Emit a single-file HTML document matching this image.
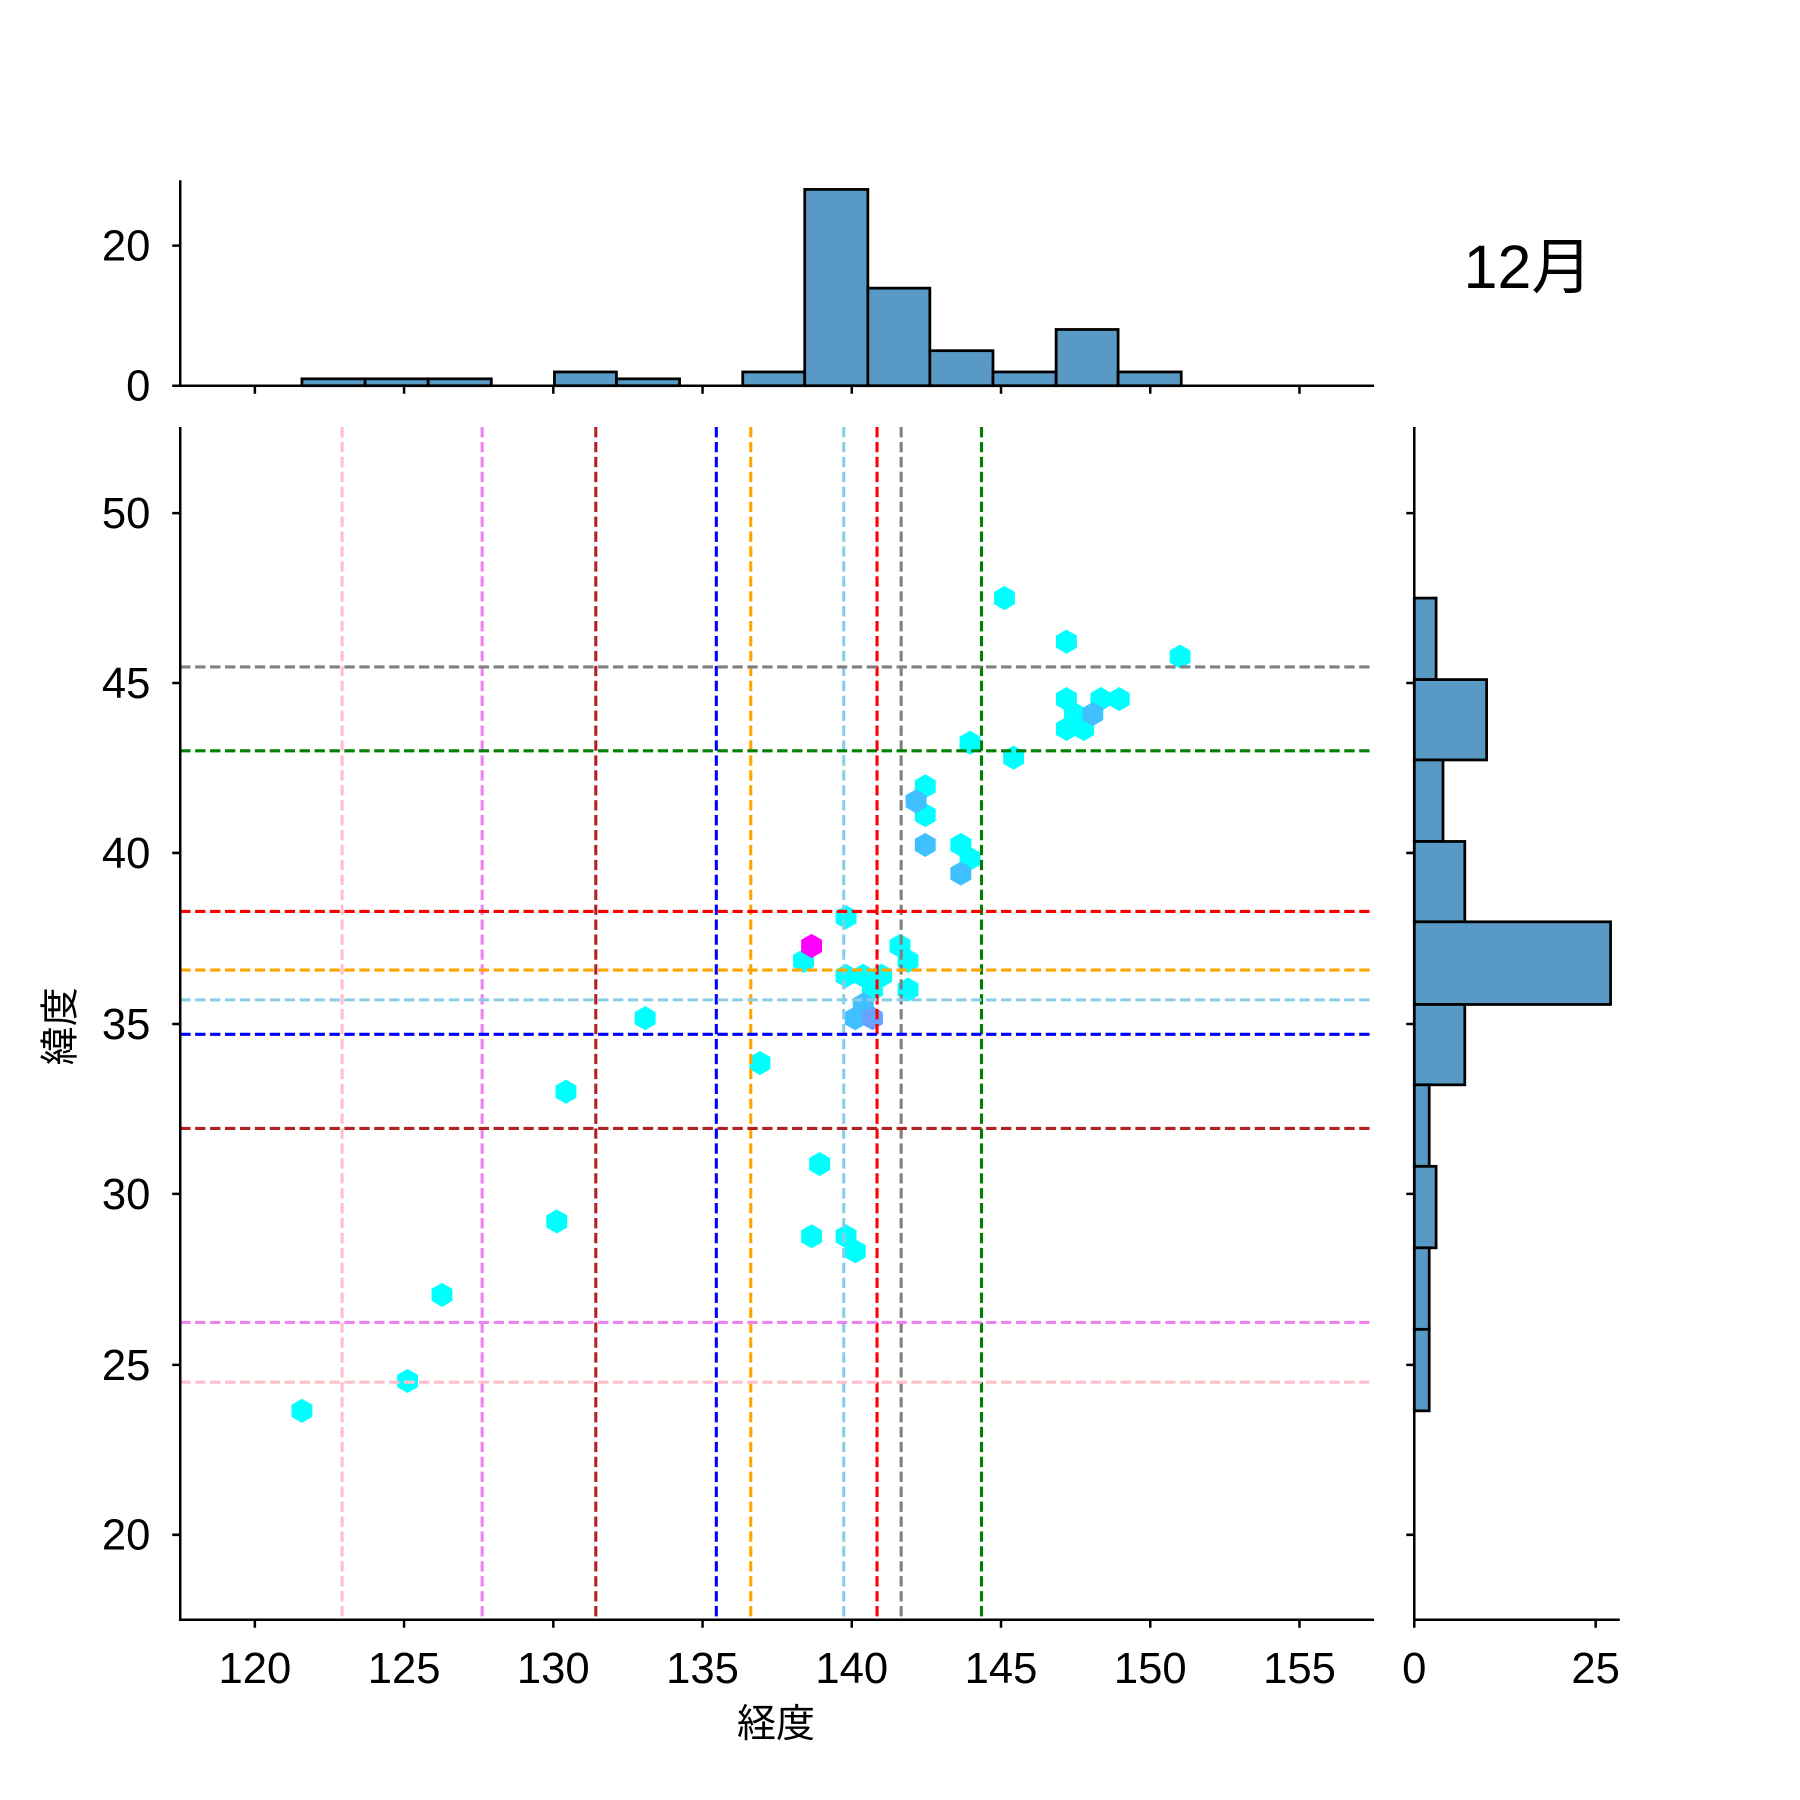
<!DOCTYPE html>
<html><head><meta charset="utf-8"><style>html,body{margin:0;padding:0;background:#fff}svg{display:block}</style></head>
<body>
<svg xmlns="http://www.w3.org/2000/svg" width="1800" height="1800" viewBox="0 0 1568 1568" font-family="'Liberation Sans','Noto Sans CJK JP',sans-serif">
<defs><polygon id="h" points="0,-10.5 9.1,-5.25 9.1,5.25 0,10.5 -9.1,5.25 -9.1,-5.25"/></defs>
<rect width="1568" height="1568" fill="#fff"/>
<g fill="#00ffff">
<use href="#h" x="875" y="521"/><use href="#h" x="929" y="559"/><use href="#h" x="1028" y="572"/>
<use href="#h" x="929" y="609"/><use href="#h" x="959" y="609"/><use href="#h" x="975" y="609"/>
<use href="#h" x="936" y="622"/><use href="#h" x="929" y="635"/><use href="#h" x="944" y="635"/>
<use href="#h" x="845" y="647"/><use href="#h" x="883" y="660"/><use href="#h" x="806" y="685"/>
<use href="#h" x="806" y="710"/><use href="#h" x="837" y="736"/><use href="#h" x="845" y="748"/>
<use href="#h" x="737" y="799"/><use href="#h" x="700" y="837"/><use href="#h" x="784" y="824"/>
<use href="#h" x="791" y="837"/><use href="#h" x="737" y="850"/><use href="#h" x="752" y="850"/>
<use href="#h" x="768" y="850"/><use href="#h" x="791" y="862"/><use href="#h" x="760" y="862"/>
<use href="#h" x="562" y="887"/><use href="#h" x="662" y="926"/><use href="#h" x="493" y="951"/>
<use href="#h" x="714" y="1014"/><use href="#h" x="485" y="1064"/><use href="#h" x="707" y="1077"/>
<use href="#h" x="737" y="1077"/><use href="#h" x="745" y="1090"/><use href="#h" x="385" y="1128"/>
<use href="#h" x="355" y="1203"/><use href="#h" x="263" y="1229"/>
</g>
<g fill="#40c0ff">
<use href="#h" x="952" y="622"/><use href="#h" x="798" y="698"/><use href="#h" x="806" y="736"/>
<use href="#h" x="837" y="761"/><use href="#h" x="752" y="875"/><use href="#h" x="745" y="887"/>
</g>
<use href="#h" x="760" y="887" fill="#66a3ff"/>
<use href="#h" x="707" y="824" fill="#ff00ff"/>
<g stroke-width="2.7" stroke-dasharray="9,4" fill="none">
<line x1="298" y1="372" x2="298" y2="1411" stroke="pink"/>
<line x1="420" y1="372" x2="420" y2="1411" stroke="violet"/>
<line x1="519" y1="372" x2="519" y2="1411" stroke="firebrick"/>
<line x1="624" y1="372" x2="624" y2="1411" stroke="blue"/>
<line x1="654" y1="372" x2="654" y2="1411" stroke="orange"/>
<line x1="735" y1="372" x2="735" y2="1411" stroke="skyblue"/>
<line x1="764" y1="372" x2="764" y2="1411" stroke="red"/>
<line x1="785" y1="372" x2="785" y2="1411" stroke="gray"/>
<line x1="855" y1="372" x2="855" y2="1411" stroke="green"/>
<line x1="157" y1="581" x2="1197" y2="581" stroke="gray"/>
<line x1="157" y1="654" x2="1197" y2="654" stroke="green"/>
<line x1="157" y1="794" x2="1197" y2="794" stroke="red"/>
<line x1="157" y1="845" x2="1197" y2="845" stroke="orange"/>
<line x1="157" y1="871" x2="1197" y2="871" stroke="skyblue"/>
<line x1="157" y1="901" x2="1197" y2="901" stroke="blue"/>
<line x1="157" y1="983" x2="1197" y2="983" stroke="firebrick"/>
<line x1="157" y1="1152" x2="1197" y2="1152" stroke="violet"/>
<line x1="157" y1="1204" x2="1197" y2="1204" stroke="pink"/>
</g>
<g fill="#5899c5" stroke="#000" stroke-width="2.4">
<rect x="263" y="330" width="55" height="6"/><rect x="318" y="330" width="55" height="6"/><rect x="373" y="330" width="55" height="6"/>
<rect x="483" y="324" width="54" height="12"/><rect x="537" y="330" width="55" height="6"/>
<rect x="647" y="324" width="54" height="12"/><rect x="701" y="165" width="55" height="171"/>
<rect x="756" y="251" width="54" height="85"/><rect x="810" y="305.5" width="55" height="30.5"/>
<rect x="865" y="324" width="55" height="12"/><rect x="920" y="287" width="54" height="49"/>
<rect x="974" y="324" width="55" height="12"/>
</g>
<g fill="#5899c5" stroke="#000" stroke-width="2.4">
<rect x="1232" y="521" width="19" height="71"/><rect x="1232" y="592" width="63" height="70"/>
<rect x="1232" y="662" width="25" height="71"/><rect x="1232" y="733" width="44" height="70"/>
<rect x="1232" y="803" width="171" height="72"/><rect x="1232" y="875" width="44" height="70"/>
<rect x="1232" y="945" width="13" height="71"/><rect x="1232" y="1016" width="19" height="71"/>
<rect x="1232" y="1087" width="13" height="71"/><rect x="1232" y="1158" width="13" height="71"/>
</g>
<g stroke="#000" stroke-width="2.2" fill="none">
<path d="M157,372 V1411 H1197"/>
<path d="M157,157 V336 H1197"/>
<path d="M1232,372 V1411 H1411"/>
<path d="M222,1411v7M352,1411v7M482,1411v7M612,1411v7M742,1411v7M872,1411v7M1002,1411v7M1132,1411v7"/>
<path d="M222,336v7M352,336v7M482,336v7M612,336v7M742,336v7M872,336v7M1002,336v7M1132,336v7"/>
<path d="M157,447h-7M157,595h-7M157,743h-7M157,892h-7M157,1040h-7M157,1189h-7M157,1337h-7"/>
<path d="M1232,447h-7M1232,595h-7M1232,743h-7M1232,892h-7M1232,1040h-7M1232,1189h-7M1232,1337h-7"/>
<path d="M157,214h-7M157,336h-7"/>
<path d="M1232,1411v7M1390,1411v7"/>
</g>
<g font-size="38" fill="#000" text-anchor="middle">
<text x="222" y="1466">120</text><text x="352" y="1466">125</text><text x="482" y="1466">130</text>
<text x="612" y="1466">135</text><text x="742" y="1466">140</text><text x="872" y="1466">145</text>
<text x="1002" y="1466">150</text><text x="1132" y="1466">155</text>
<text x="1232" y="1466">0</text><text x="1390" y="1466">25</text>
</g>
<g font-size="38" fill="#000" text-anchor="end">
<text x="131" y="460">50</text><text x="131" y="608">45</text><text x="131" y="756">40</text>
<text x="131" y="905">35</text><text x="131" y="1053">30</text><text x="131" y="1202">25</text>
<text x="131" y="1350">20</text>
<text x="131" y="227">20</text><text x="131" y="349">0</text>
</g>
<text x="676" y="1513" font-size="34" text-anchor="middle">経度</text>
<text transform="translate(64,894) rotate(-90)" font-size="34" text-anchor="middle">緯度</text>
<text x="1331" y="251" font-size="53" text-anchor="middle">12月</text>
</svg>
</body></html>
